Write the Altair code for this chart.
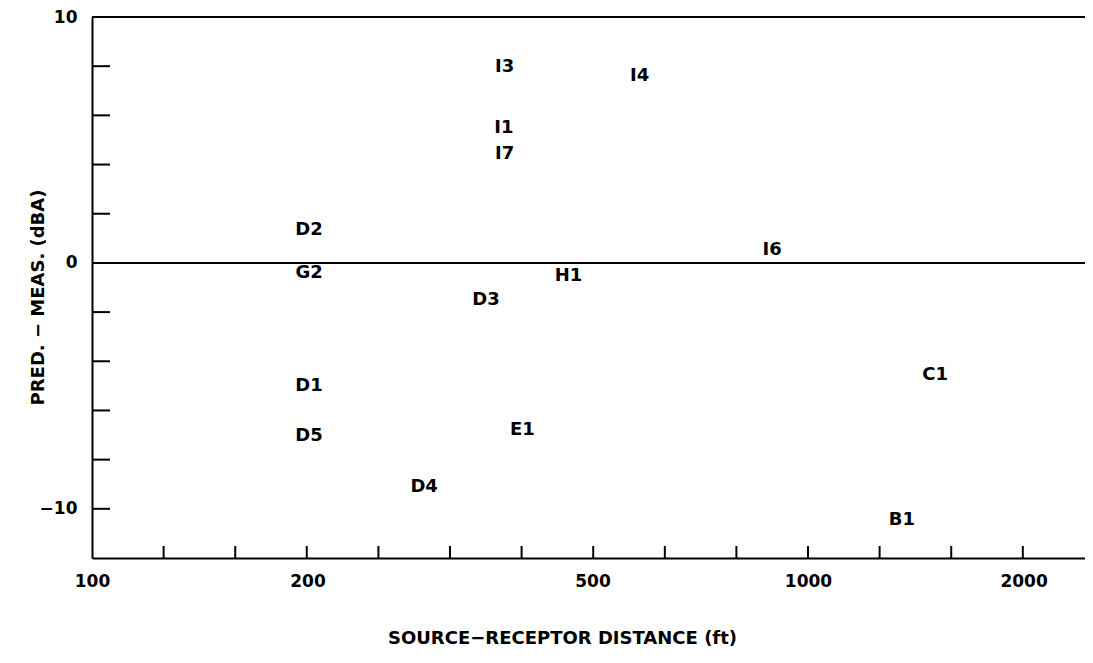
import altair as alt
import pandas as pd

# data labels and positions
labels = ["D2", "G2", "D3", "I3", "I1", "I7", "I4", "H1", "I6", "C1", "B1", "D1", "D5", "D4", "E1"]
distance = [201, 201, 355, 377, 376, 377, 582, 463, 891, 1505, 1352, 201, 201, 291, 399]
difference = [1.34, -0.43, -1.5, 7.96, 5.48, 4.42, 7.59, -0.55, 0.53, -4.56, -10.45, -5.0, -7.02, -9.1, -6.78]

x_label_values = [100, 200, 500, 1000, 2000]
x_tick_values = [125.9, 158.5, 199.5, 251.2, 316.2, 398.1, 501.2, 631.0, 794.3, 1000, 1258.9, 1584.9, 1995.3]
y_label_values = [-10, 0, 10]
y_tick_values = [-10, -8, -6, -4, -2, 2, 4, 6, 8]
ref_lines = [0, 10]

FONT = "DejaVu Sans"
W, H = 993, 541

pts = pd.DataFrame({"label": labels, "d": distance, "v": difference})
xt = pd.DataFrame({"d": x_tick_values})
yt = pd.DataFrame({"v": y_tick_values})
rl = pd.DataFrame({"v": ref_lines})

xscale = alt.Scale(type="log", domain=[100, 2437], nice=False)
yscale = alt.Scale(domain=[-12, 10], nice=False, zero=False)

XT = "SOURCE\u2212RECEPTOR DISTANCE (ft)"
YT = "PRED.  \u2212  MEAS.  (dBA)"

xaxis = alt.Axis(
    values=x_label_values, format="d", grid=False, ticks=False,
    domainColor="black", domainWidth=2,
    labelFont=FONT, labelFontWeight="bold", labelFontSize=17, labelColor="black",
    labelPadding=15, labelFlush=False,
    titleFont=FONT, titleFontWeight="bold", titleFontSize=18, titleColor="black",
    titleX=470, titleY=80, titleBaseline="middle", titleAlign="center",
)
yaxis = alt.Axis(
    values=y_label_values, grid=False, ticks=False,
    domainColor="black", domainWidth=2,
    labelFont=FONT, labelFontWeight="bold", labelFontSize=17, labelColor="black",
    labelPadding=15,
    titleFont=FONT, titleFontWeight="bold", titleFontSize=18, titleColor="black",
    titleX=-54, titleY=280, titleAngle=270, titleBaseline="middle", titleAlign="center",
)

X = alt.X("d:Q", scale=xscale, axis=xaxis, title=XT)
Y = alt.Y("v:Q", scale=yscale, axis=yaxis, title=YT)

text = alt.Chart(pts).mark_text(
    font=FONT, fontWeight="bold", fontSize=18, color="black",
    align="center", baseline="middle",
).encode(x=X, y=Y, text="label:N")

hlines = alt.Chart(rl).mark_rule(color="black", strokeWidth=2).encode(y=Y)

xticks = alt.Chart(xt).mark_rule(color="black", strokeWidth=2).encode(
    x=X, y=alt.value(H), y2=alt.value(H - 12),
)

yticks = alt.Chart(yt).mark_rule(color="black", strokeWidth=2).encode(
    y=Y, x=alt.value(0), x2=alt.value(18),
)

chart = alt.layer(text, hlines, xticks, yticks).properties(
    width=W, height=H,
    autosize=alt.AutoSizeParams(type="none"),
    padding={"left": 84, "top": 9, "right": 0, "bottom": 92},
).configure_view(stroke=None).configure(background="white")

chart.save("out.html", embed_options={"renderer": "svg", "actions": False})
